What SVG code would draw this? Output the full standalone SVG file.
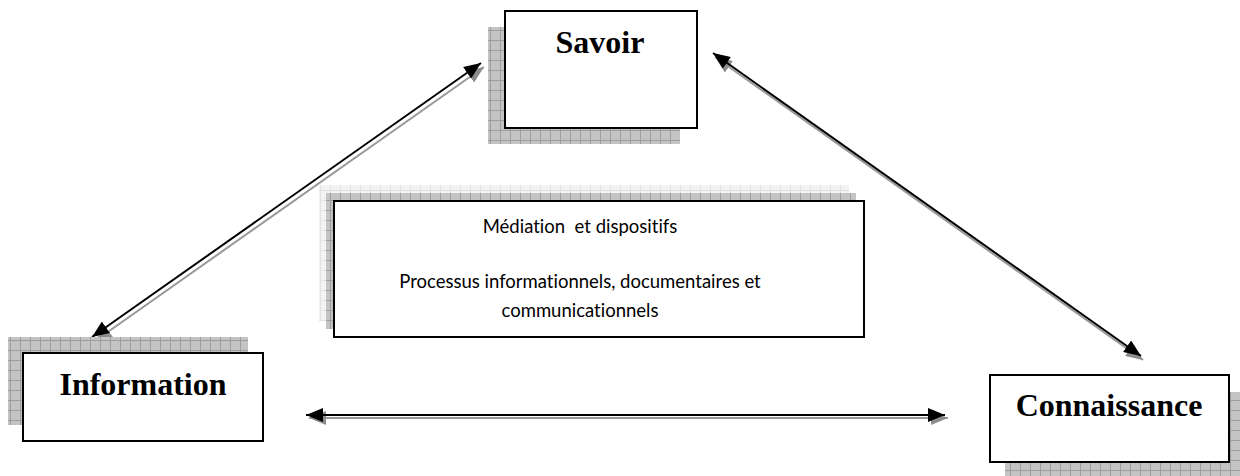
<svg xmlns="http://www.w3.org/2000/svg" width="1240" height="476" viewBox="0 0 1240 476">
<defs>
<pattern id="grid" width="10" height="10" patternUnits="userSpaceOnUse">
<rect width="10" height="10" fill="#c4c4c4"/>
<path d="M0,0.5 H10 M0.5,0 V10" stroke="#9e9e9e" stroke-width="1"/>
</pattern>
<pattern id="gridLight" width="10" height="10" patternUnits="userSpaceOnUse">
<rect width="10" height="10" fill="#f3f3f3"/>
<path d="M0,0.5 H10 M0.5,0 V10" stroke="#e2e2e2" stroke-width="1"/>
</pattern>
<marker id="hb" markerUnits="userSpaceOnUse" markerWidth="18" markerHeight="14" refX="17" refY="7" orient="auto-start-reverse">
<path d="M0,0 L17,7 L0,14 z" fill="#000"/>
</marker>
<marker id="hg" markerUnits="userSpaceOnUse" markerWidth="18" markerHeight="14" refX="17" refY="7" orient="auto-start-reverse">
<path d="M0,0 L17,7 L0,14 z" fill="#8c8c8c"/>
</marker>
</defs>
<style>
.box{fill:#fff;stroke:#000;stroke-width:2}
.sh{fill:url(#grid)}
.title{font-family:"Liberation Serif","Times New Roman",serif;font-weight:bold;font-size:32px;text-anchor:middle;fill:#000}
.body{font-family:Lato,"Liberation Sans",sans-serif;font-size:18.5px;font-variant-ligatures:none;text-anchor:middle;fill:#000}
.lb{stroke:#000;stroke-width:2;fill:none;marker-start:url(#hb);marker-end:url(#hb)}
.lg{stroke:#999;stroke-width:2;fill:none;marker-start:url(#hg);marker-end:url(#hg)}
</style>
<g id="connectors">
<line class="lg" x1="95" y1="341" x2="484" y2="67"/>
<line class="lb" x1="92" y1="337" x2="481" y2="63"/>
<line class="lg" x1="715" y1="57" x2="1143" y2="360"/>
<line class="lb" x1="713" y1="53" x2="1141" y2="356"/>
<line class="lg" x1="309" y1="418" x2="948" y2="418"/>
<line class="lb" x1="306" y1="415" x2="945" y2="415"/>
</g>
<g id="savoir">
<rect class="sh" x="488" y="27" width="192" height="117"/>
<rect class="box" x="505" y="11" width="192" height="117"/>
<text class="title" x="600" y="53">Savoir</text>
</g>
<g id="mediation">
<rect x="319" y="185" width="530" height="136" fill="url(#gridLight)"/>
<rect class="sh" x="326" y="193" width="530" height="136"/>
<rect class="box" x="334" y="201" width="530" height="136"/>
<text class="body" x="580" y="233" xml:space="preserve">Médiation  et dispositifs</text>
<text class="body" x="580" y="288">Processus informationnels, documentaires et</text>
<text class="body" x="580" y="317">communicationnels</text>
</g>
<g id="information">
<rect class="sh" x="8" y="337" width="240" height="88"/>
<rect class="box" x="23" y="353" width="240" height="88"/>
<text class="title" x="143" y="395">Information</text>
</g>
<g id="connaissance">
<rect class="sh" x="1005" y="392" width="239" height="87"/>
<rect class="box" x="990" y="375" width="239" height="87"/>
<text class="title" x="1109" y="416">Connaissance</text>
</g>
</svg>
